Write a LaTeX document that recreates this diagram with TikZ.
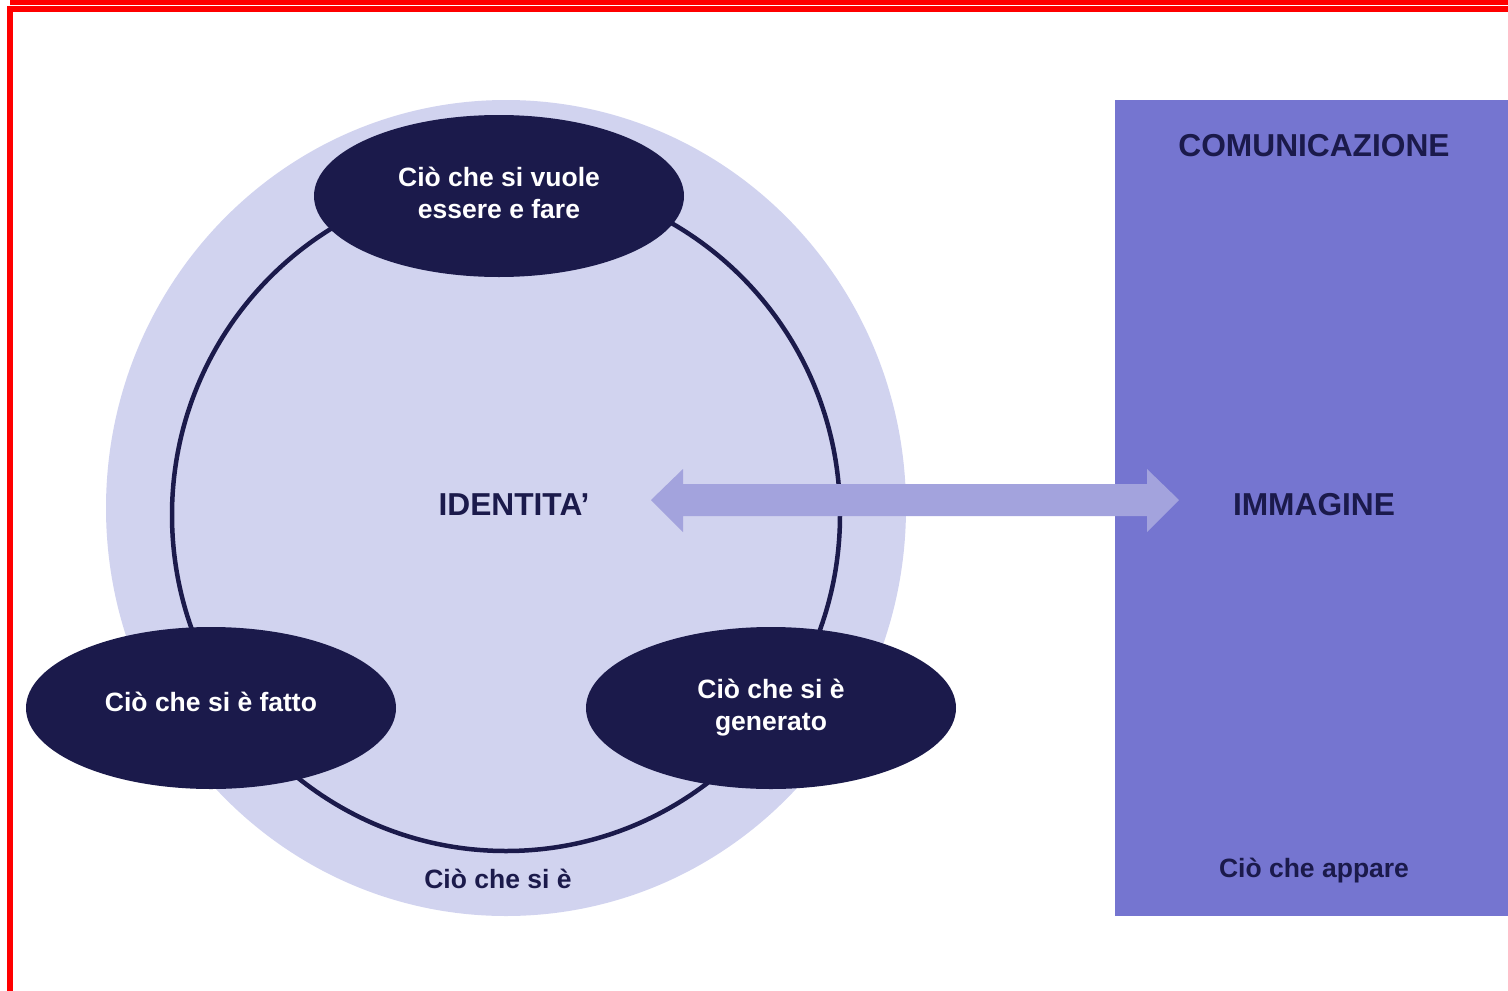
\documentclass[tikz,border=0pt]{standalone}
\usepackage{fontspec}
\setmainfont{Liberation Sans}
\usetikzlibrary{shapes.geometric}
\definecolor{navy}{HTML}{1B1A4B}
\definecolor{lav}{HTML}{D1D3EF}
\definecolor{boxc}{HTML}{7575D0}
\definecolor{arrc}{HTML}{A3A3DD}
\begin{document}
\begin{tikzpicture}[x=1pt,y=-1pt,
  oval/.style={ellipse, fill=navy, minimum width=370pt, minimum height=162pt, inner sep=0pt},
  ovaltxt/.style={text=white, align=center, inner sep=0pt, font=\fontsize{26.5}{32}\selectfont\bfseries},
  bigtxt/.style={text=navy, font=\fontsize{31.7}{36}\selectfont\bfseries, inner sep=0pt},
  smalltxt/.style={text=navy, font=\fontsize{26.5}{32}\selectfont\bfseries, inner sep=0pt}]
\useasboundingbox (0,0) rectangle (1508,991);
% red frame
\fill[red] (10,0) rectangle (1508,5);
\fill[red] (7,6) rectangle (1508,12);
\fill[red] (7,6) rectangle (13,991);
% big circle
\fill[lav] (506,508) ellipse [x radius=400, y radius=408];
\draw[navy, line width=4.5pt] (506,515) ellipse [x radius=334, y radius=336];
% ovals
\node[oval] (top) at (499,196) {};
\node[oval] (left) at (211,708) {};
\node[oval] (right) at (771,708) {};
\node[ovaltxt] (toptxt) at (499,193) {Ciò che si vuole\\essere e fare};
\node[ovaltxt] (lefttxt) at (211,702) {Ciò che si è fatto};
\node[ovaltxt] (righttxt) at (771,708) {Ciò che si è\\generato};
% right box
\fill[boxc] (1115,100) rectangle (1508,916);
% labels
\node[bigtxt] (ident) at (514,505) {IDENTITA’};
\node[bigtxt] (imm) at (1314,505) {IMMAGINE};
\node[bigtxt] (comm) at (1314,146) {COMUNICAZIONE};
\node[smalltxt] (sie) at (498,879) {Ciò che si è};
\node[smalltxt] (app) at (1314,871) {Ciò che appare};
% double arrow
\coordinate (al) at (651,500);
\coordinate (ar) at (1179,500);
\fill[arrc] (al) -- (683,469) -- (683,484) -- (1147,484) -- (1147,469) -- (ar)
  -- (1147,532) -- (1147,516) -- (683,516) -- (683,532) -- cycle;
\end{tikzpicture}
\end{document}
